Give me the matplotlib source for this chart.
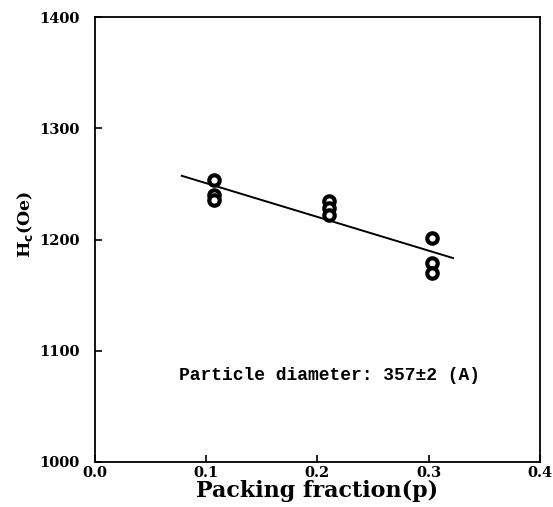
import numpy as np
import matplotlib
matplotlib.use("Agg")
import matplotlib.pyplot as plt

# Coercivity vs packing fraction
packing = [0.107, 0.107, 0.107, 0.210, 0.210, 0.210, 0.303, 0.303, 0.303]
hc = [1254, 1240, 1236, 1235, 1228, 1222, 1201, 1179, 1170]
fit_range = [0.078, 0.322]

xticks = [0.0, 0.1, 0.2, 0.3, 0.4]
yticks = [1000, 1100, 1200, 1300, 1400]

plt.rcParams['font.family'] = ['DejaVu Serif']
plt.rcParams['font.weight'] = 'bold'

fig = plt.figure(figsize=(5.53, 5.07), dpi=100)
ax = fig.add_axes([0.172, 0.089, 0.804, 0.877])

slope, icpt = np.polyfit(packing, hc, 1)
xf = np.array(fit_range)
ax.plot(xf, slope * xf + icpt, color='black', lw=1.4)

ax.plot(packing, hc, linestyle='none', marker='o', ms=7.5,
        mfc='white', mec='black', mew=3.0)

ax.set_xlim(0.0, 0.4)
ax.set_ylim(1000, 1400)
ax.set_xticks(xticks)
ax.set_yticks(yticks)
ax.set_xticklabels([f"{t:.1f}" for t in xticks], fontsize=10.5, fontweight='bold')
ax.set_yticklabels([str(t) for t in yticks], fontsize=10.5, fontweight='bold')
ax.tick_params(direction='in', length=5, width=1.2)
ax.tick_params(axis='y', pad=11)
ax.tick_params(axis='x', pad=3)
for s in ax.spines.values():
    s.set_linewidth(1.3)

ax.set_xlabel('Packing fraction(p)', fontsize=16, fontweight='bold', labelpad=0)
ax.set_ylabel(r'H$_\mathbf{c}$(Oe)', fontsize=12.5, fontweight='bold')
ax.yaxis.set_label_coords(-0.135, 0.534)

ax.text(0.0755, 1078, 'Particle diameter: 357±2 (A)', fontsize=13.0,
        family='Liberation Mono', fontweight='bold', va='center', ha='left')

fig.savefig('out.png', dpi=100)
